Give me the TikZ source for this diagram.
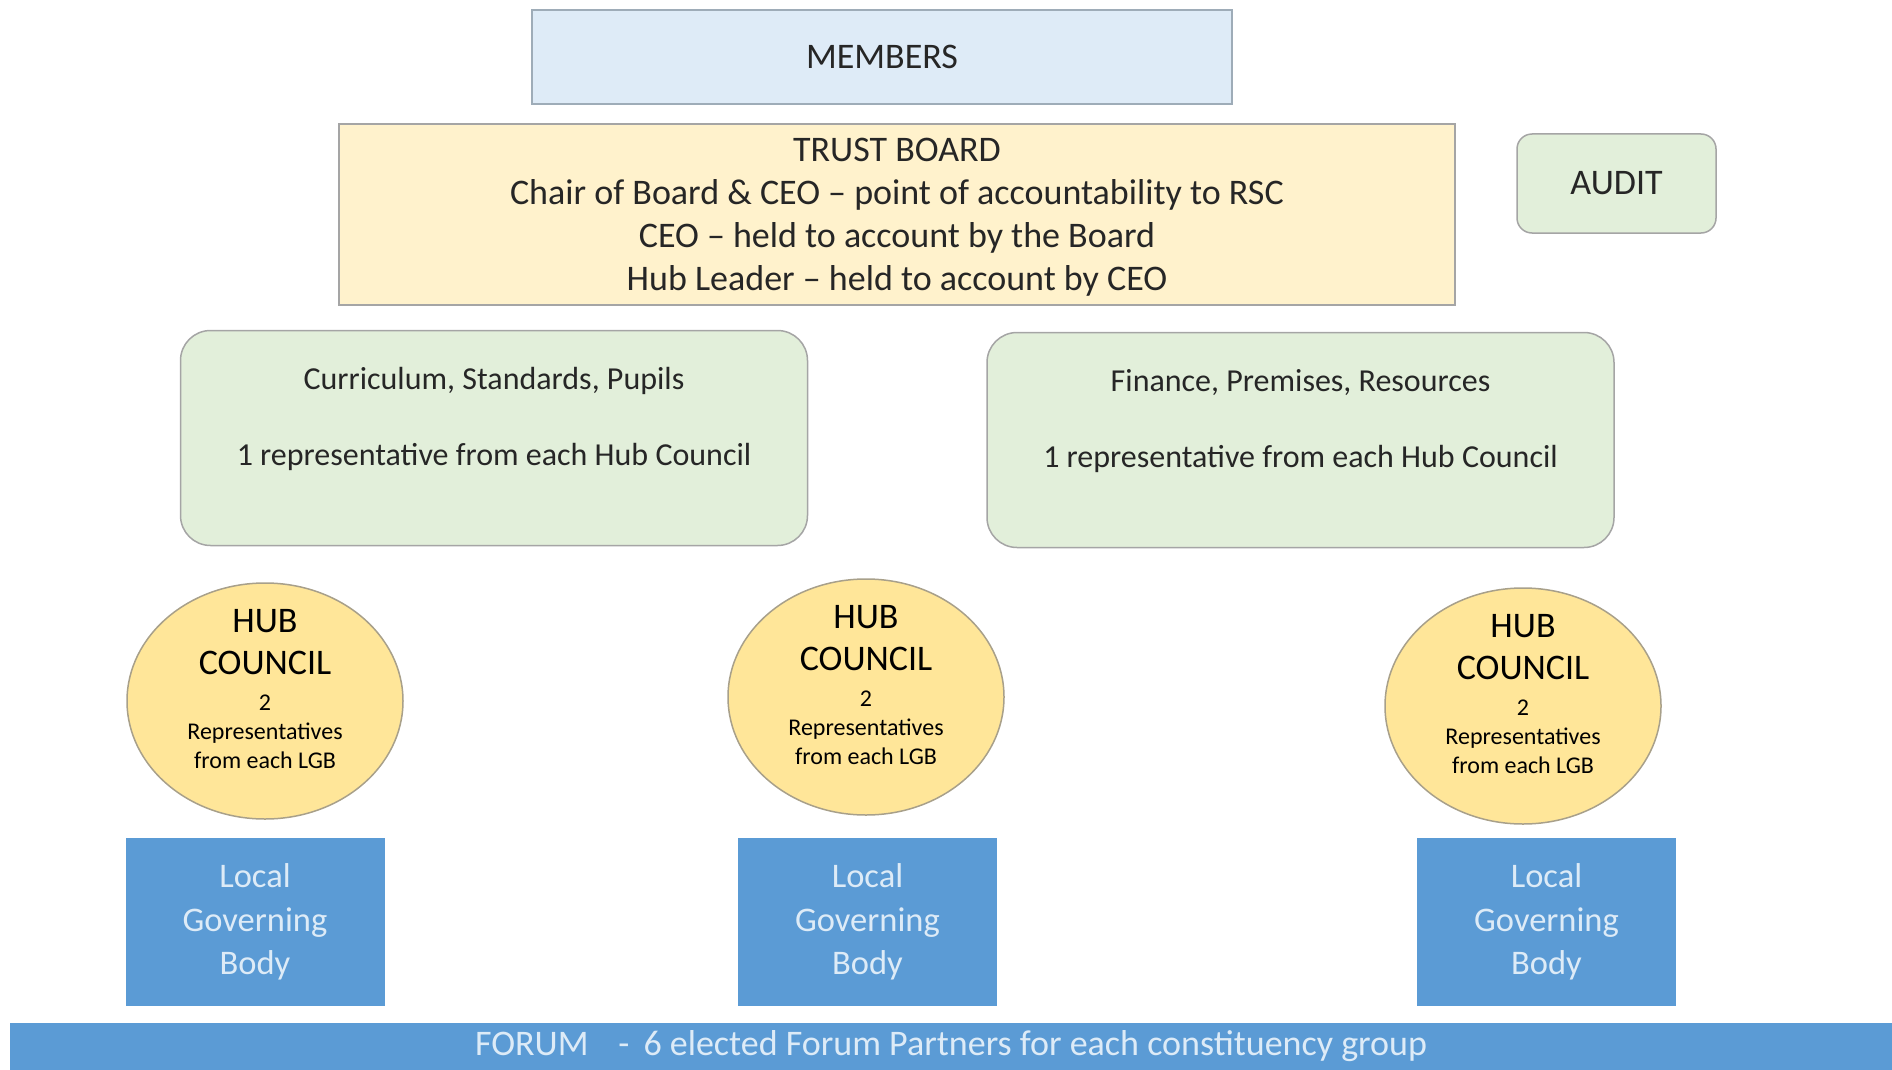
\documentclass[tikz,border=0pt]{standalone}
\usepackage{fontspec}
\setmainfont{Carlito}
\usetikzlibrary{shapes.geometric}
\definecolor{memberfill}{HTML}{DEEBF7}
\definecolor{memberedge}{HTML}{9EACB8}
\definecolor{boardfill}{HTML}{FFF2CC}
\definecolor{groupfill}{HTML}{E2EFDA}
\definecolor{hubfill}{HTML}{FFE699}
\definecolor{hubedge}{HTML}{A8A08A}
\definecolor{lgbfill}{HTML}{5B9BD5}
\definecolor{lgbtext}{HTML}{DDEBF7}
\definecolor{edgegray}{HTML}{A5A5A5}
\definecolor{inkgray}{HTML}{262626}
\newcommand{\bigtxt}{\fontsize{36}{43}\selectfont}
\newcommand{\smalltxt}{\fontsize{24}{29}\selectfont}

\begin{document}
\begin{tikzpicture}[x=1pt,y=-1pt,
    plainbox/.style={draw=edgegray, line width=1.5pt, text=inkgray, font=\bigtxt, align=center, inner sep=0pt},
    groupbox/.style={plainbox, fill=groupfill, rounded corners=30pt, minimum width=627pt, minimum height=215pt, font=\fontsize{32}{76}\selectfont, text depth=43pt},
    hubnode/.style={draw=hubedge, line width=1.5pt, fill=hubfill, shape=ellipse, minimum width=276pt, minimum height=236pt, inner xsep=0pt, inner ysep=-14pt, align=center, text=black, font=\smalltxt, text depth=24pt},
    lgbbox/.style={fill=lgbfill, text=lgbtext, font=\fontsize{34.5}{43.5}\selectfont, align=center, inner sep=0pt, minimum width=259pt, minimum height=168pt}]
    \useasboundingbox (0,0) rectangle (1892,1070);

    % top of the trust
    \node[plainbox, fill=memberfill, draw=memberedge, minimum width=700pt, minimum height=94pt] (MB) at (882,57) {MEMBERS};
    \node[plainbox, fill=boardfill, minimum width=1116pt, minimum height=181pt, text depth=0pt] (TB) at (897,214.5) {TRUST BOARD\\Chair of Board \& CEO – point of accountability to RSC\\CEO – held to account by the Board\\Hub Leader – held to account by CEO};
    \node[plainbox, fill=groupfill, rounded corners=15pt, minimum width=199pt, minimum height=99pt] (AU) at (1616.5,183.5) {AUDIT};

    % committees
    \node[groupbox] (CSP) at (494,438) {Curriculum, Standards, Pupils\\1 representative from each Hub Council};
    \node[groupbox] (FPR) at (1300.5,440) {Finance, Premises, Resources\\1 representative from each Hub Council};

    % hub councils
    \node[hubnode] (HA) at (265,701) {\bigtxt HUB\\[13pt]\bigtxt COUNCIL\\[7pt]\smalltxt 2\\\smalltxt Representatives\\\smalltxt from each LGB};
    \node[hubnode] (HB) at (866,697) {\bigtxt HUB\\[13pt]\bigtxt COUNCIL\\[7pt]\smalltxt 2\\\smalltxt Representatives\\\smalltxt from each LGB};
    \node[hubnode] (HC) at (1523,706) {\bigtxt HUB\\[13pt]\bigtxt COUNCIL\\[7pt]\smalltxt 2\\\smalltxt Representatives\\\smalltxt from each LGB};

    % local governing bodies
    \node[lgbbox] (LA) at (255,922) {Local\\Governing\\Body};
    \node[lgbbox] (LB) at (867.5,922) {Local\\Governing\\Body};
    \node[lgbbox] (LC) at (1546.5,922) {Local\\Governing\\Body};

    % forum
    \node[fill=lgbfill, text=lgbtext, font=\bigtxt, inner sep=0pt, minimum width=1882pt, minimum height=47pt] (FO) at (951,1046.5) {FORUM\hspace{30pt}-\hspace{14pt}6 elected Forum Partners for each constituency group};
\end{tikzpicture}
\end{document}
